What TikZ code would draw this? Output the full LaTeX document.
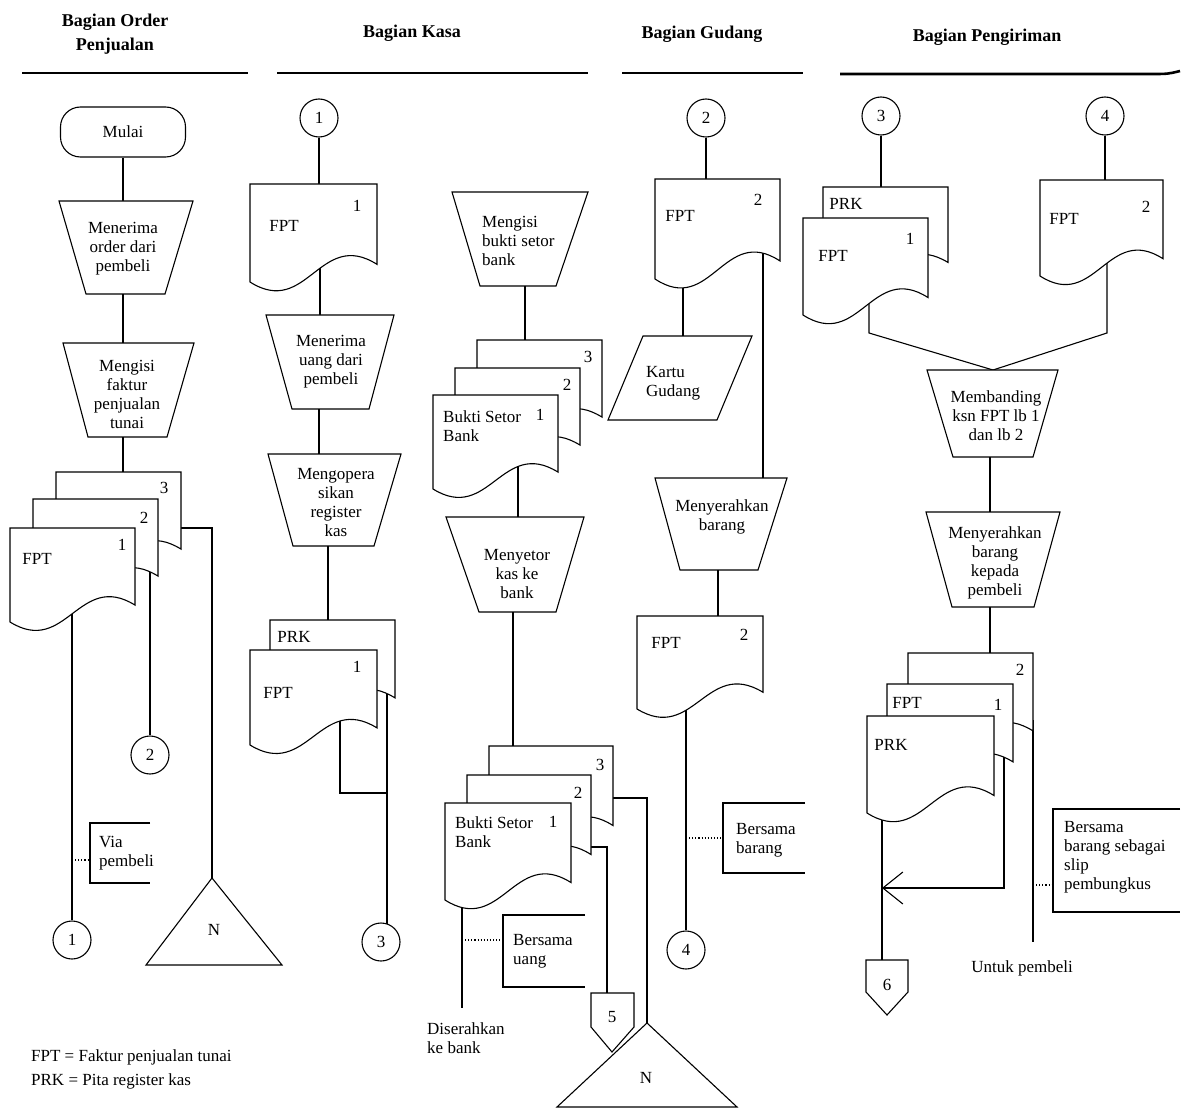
\documentclass[tikz,border=0pt]{standalone}
\usepackage{fontspec}
\setmainfont{Liberation Serif}
\usetikzlibrary{arrows.meta}
\tikzset{
  ln/.style={line width=1.1pt},
  shp/.style={draw, line width=1.1pt, fill=white},
  txt/.style={font=\fontsize{17}{19}\selectfont, inner sep=0pt, align=center},
  lft/.style={font=\fontsize{17}{19}\selectfont, inner sep=0pt, align=left, anchor=west},
  hdr/.style={font=\bfseries\fontsize{18}{21}\selectfont, inner sep=0pt},
  conn/.style={circle, draw, line width=1.1pt, fill=white, minimum size=38pt, inner sep=0pt, font=\fontsize{17}{19}\selectfont},
  hline/.style={line width=2.6pt},
  dots/.style={dotted, line width=1.1pt},
}
% document symbol: x, y (top-left), width, left height
\newcommand{\docu}[4]{%
  \draw[shp] (#1,#2) -- ({#1+#3},#2) -- ({#1+#3},{#2+0.82*#4})
    .. controls ({#1+0.55*#3},{#2+0.45*#4}) and ({#1+0.45*#3},{#2+1.37*#4}) .. (#1,{#2+#4}) -- cycle;}
% manual operation (trapezium): ytop, ybot, x top-left, x top-right, x bottom-left, x bottom-right
\newcommand{\trapz}[6]{%
  \draw[shp] (#3,#1) -- (#4,#1) -- (#6,#2) -- (#5,#2) -- cycle;}
\begin{document}
\begin{tikzpicture}[x=1pt,y=-1pt]
\useasboundingbox (0,0) rectangle (1187,1110);

% ---------------- headers ----------------
\node[hdr] (h1a) at (115,22) {Bagian Order};
\node[hdr] (h1b) at (115,46) {Penjualan};
\node[hdr] (h2) at (412,33) {Bagian Kasa};
\node[hdr] (h3) at (702,34) {Bagian Gudang};
\node[hdr] (h4) at (987,37) {Bagian Pengiriman};
\draw[hline] (22,73) -- (248,73);
\draw[hline] (277,73) -- (588,73);
\draw[hline] (622,73) -- (803,73);
\draw[hline] (840,74) -- (1150,74) .. controls (1168,74) .. (1180,71);

% ================= Column 1 : Bagian Order Penjualan =================
\node[shp, rounded corners=20pt, minimum width=125pt, minimum height=50pt, txt] (mulai) at (123,132) {Mulai};
\coordinate (t1t) at (123,201);
\draw[ln] (mulai.south) -- (t1t);
\trapz{201}{294}{59}{193}{86}{165}
\node[txt] (t1) at (123,249) {Menerima\\order dari\\pembeli};
\coordinate (t1b) at (123,294);
\coordinate (t2t) at (123,343);
\draw[ln] (t1b) -- (t2t);
\trapz{343}{437}{63}{194}{88}{167}
\node[txt] (t2) at (127,394) {Mengisi\\faktur\\penjualan\\tunai};
\coordinate (t2b) at (123,437);
\coordinate (s1top) at (123,472);
\draw[ln] (t2b) -- (s1top);

\node[conn] (c2a) at (150,755) {2};
\node[conn] (c1a) at (72,940) {1};
\coordinate (s1c3) at (181,528);
\coordinate (n1apex) at (212,878);
\coordinate (s1c2) at (150,555);
\coordinate (s1c1) at (72,600);
\draw[ln] (s1c3) -| (n1apex);
\draw[ln] (s1c2) -- (c2a.north);
\draw[ln] (s1c1) -- (c1a.north);
\coordinate (via1) at (72,860);
\coordinate (via2) at (90,860);
\draw[dots] (via1) -- (via2);
\draw[ln] (150,823) -- (90,823) -- (90,883) -- (150,883);
\node[lft] (via) at (99,853) {Via\\pembeli};
\draw[shp] (n1apex) -- (282,965) -- (146,965) -- cycle;
\node[txt] (n1) at (214,930) {N};

\docu{56}{472}{125}{94}
\docu{33}{499}{125}{94}
\docu{10}{528}{125}{94}
\node[txt] (s1n3) at (164,488) {3};
\node[txt] (s1n2) at (144,518) {2};
\node[txt] (s1n1) at (122,545) {1};
\node[txt] (s1l) at (37,559) {FPT};

\node[lft] (leg1) at (31,1057) {FPT = Faktur penjualan tunai};
\node[lft] (leg2) at (31,1081) {PRK = Pita register kas};

% ================= Column 2 : Bagian Kasa (left) =================
\node[conn] (c1b) at (319,118) {1};
\coordinate (d2t) at (319,184);
\draw[ln] (c1b) -- (d2t);
\coordinate (d2c) at (320,250);
\coordinate (tAt) at (320,315);
\draw[ln] (d2c) -- (tAt);
\docu{250}{184}{127}{98}
\node[txt] (d2l) at (284,226) {FPT};
\node[txt] (d2n) at (357,206) {1};
\trapz{315}{409}{266}{394}{292}{369}
\node[txt] (tA) at (331,362) {Menerima\\uang dari\\pembeli};
\coordinate (tAb) at (319,409);
\coordinate (tBt) at (319,454);
\draw[ln] (tAb) -- (tBt);
\trapz{454}{546}{268}{401}{293}{374}
\node[txt] (tB) at (336,503) {Mengopera\\sikan\\register\\kas};
\coordinate (tBb) at (328,546);
\coordinate (s2top) at (328,620);
\draw[ln] (tBb) -- (s2top);

\node[conn] (c3b) at (381,942) {3};
\coordinate (s2f) at (340,700);
\coordinate (s2j) at (387,793);
\coordinate (s2p) at (387,680);
\coordinate (s2e) at (387,924);
\draw[ln] (s2f) |- (s2j);
\draw[ln] (s2p) -- (s2e);
\docu{270}{620}{125}{95}
\docu{250}{650}{127}{95}
\node[txt] (s2l1) at (294,637) {PRK};
\node[txt] (s2l2) at (278,693) {FPT};
\node[txt] (s2n) at (357,667) {1};

% ================= Column 2 : Bagian Kasa (right) =================
\trapz{192}{286}{452}{588}{480}{556}
\node[lft] (tC) at (482,241) {Mengisi\\bukti setor\\bank};
\coordinate (tCb) at (525,286);
\coordinate (s3top) at (525,340);
\draw[ln] (tCb) -- (s3top);
\coordinate (s3c) at (518,450);
\coordinate (tDt) at (518,517);
\draw[ln] (s3c) -- (tDt);
\docu{477}{340}{125}{94}
\docu{455}{368}{125}{94}
\docu{433}{395}{125}{94}
\node[txt] (s3n3) at (588,357) {3};
\node[txt] (s3n2) at (567,385) {2};
\node[txt] (s3n1) at (540,415) {1};
\node[lft] (s3l) at (443,426) {Bukti Setor\\Bank};
\trapz{517}{612}{446}{584}{479}{556}
\node[txt] (tD) at (517,574) {Menyetor\\kas ke\\bank};
\coordinate (tDb) at (513,612);
\coordinate (s4top) at (513,746);
\draw[ln] (tDb) -- (s4top);

\coordinate (s4c3) at (613,798);
\coordinate (n2apex) at (647,1023);
\coordinate (s4c2) at (591,847);
\coordinate (p5top) at (607,993);
\coordinate (s4c1) at (462,870);
\coordinate (s4end) at (462,1008);
\draw[ln] (s4c3) -| (n2apex);
\draw[ln] (s4c2) -| (p5top);
\draw[ln] (s4c1) -- (s4end);
\coordinate (bu1) at (462,940);
\coordinate (bu2) at (503,940);
\draw[dots] (bu1) -- (bu2);
\draw[ln] (585,915) -- (503,915) -- (503,987) -- (585,987);
\node[lft] (bu) at (513,951) {Bersama\\uang};
\node[lft] (diser) at (427,1038) {Diserahkan\\ke bank};
\draw[shp] (591,993) -- (634,993) -- (634,1027) -- (612,1052) -- (591,1027) -- cycle;
\node[txt] (p5) at (612,1017) {5};
\draw[shp] (n2apex) -- (737,1107) -- (557,1107) -- cycle;
\node[txt] (n2) at (646,1078) {N};

\docu{489}{746}{124}{97}
\docu{467}{775}{124}{97}
\docu{445}{803}{126}{97}
\node[txt] (s4n3) at (600,765) {3};
\node[txt] (s4n2) at (578,793) {2};
\node[txt] (s4n1) at (553,822) {1};
\node[lft] (s4l) at (455,832) {Bukti Setor\\Bank};

% ================= Column 3 : Bagian Gudang =================
\node[conn] (c2b) at (706,118) {2};
\coordinate (d3t) at (706,179);
\draw[ln] (c2b) -- (d3t);
\coordinate (d3a) at (683,255);
\coordinate (kgt) at (683,336);
\draw[ln] (d3a) -- (kgt);
\coordinate (d3b) at (763,240);
\coordinate (tEt) at (763,478);
\draw[ln] (d3b) -- (tEt);
\docu{655}{179}{125}{100}
\node[txt] (d3l) at (680,216) {FPT};
\node[txt] (d3n) at (758,200) {2};
\draw[shp] (643,336) -- (752,336) -- (717,420) -- (608,420) -- cycle;
\node[lft] (kg) at (646,383) {Kartu\\Gudang};
\trapz{478}{570}{655}{787}{680}{758}
\node[txt] (tE) at (722,517) {Menyerahkan\\barang};
\coordinate (tEb) at (718,570);
\coordinate (d4t) at (718,616);
\draw[ln] (tEb) -- (d4t);
\node[conn] (c4b) at (686,950) {4};
\coordinate (d4c) at (686,690);
\draw[ln] (d4c) -- (c4b.north);
\coordinate (ba1) at (686,838);
\coordinate (ba2) at (723,838);
\draw[dots] (ba1) -- (ba2);
\draw[ln] (805,803) -- (723,803) -- (723,873) -- (805,873);
\node[lft] (ba) at (736,840) {Bersama\\barang};
\docu{637}{616}{126}{93}
\node[txt] (d4l) at (666,643) {FPT};
\node[txt] (d4n) at (744,635) {2};

% ================= Column 4 : Bagian Pengiriman =================
\node[conn] (c3c) at (881,116) {3};
\node[conn] (c4c) at (1105,116) {4};
\coordinate (s5top) at (881,187);
\coordinate (d6t) at (1105,180);
\draw[ln] (c3c) -- (s5top);
\draw[ln] (c4c) -- (d6t);
\coordinate (s5c) at (869,300);
\coordinate (s5k) at (869,333);
\coordinate (d6c) at (1107,260);
\coordinate (d6k) at (1107,333);
\coordinate (tFt) at (993,370);
\draw[ln] (s5c) -- (s5k) -- (tFt);
\draw[ln] (d6c) -- (d6k) -- (tFt);
\docu{823}{187}{125}{92}
\docu{803}{218}{125}{97}
\node[txt] (s5l1) at (846,204) {PRK};
\node[txt] (s5l2) at (833,256) {FPT};
\node[txt] (s5n) at (910,239) {1};
\docu{1040}{180}{123}{96}
\node[txt] (d6l) at (1064,219) {FPT};
\node[txt] (d6n) at (1146,207) {2};

\trapz{370}{457}{927}{1058}{953}{1033}
\node[txt] (tF) at (996,416) {Membanding\\ksn FPT lb 1\\dan lb 2};
\coordinate (tFb) at (990,457);
\coordinate (tGt) at (990,512);
\draw[ln] (tFb) -- (tGt);
\trapz{512}{607}{926}{1060}{952}{1034}
\node[txt] (tG) at (995,563) {Menyerahkan\\barang\\kepada\\pembeli};
\coordinate (tGb) at (990,607);
\coordinate (s6top) at (990,653);
\draw[ln] (tGb) -- (s6top);

\coordinate (s6a) at (882,790);
\coordinate (p6top) at (882,960);
\draw[ln] (s6a) -- (p6top);
\coordinate (s6b) at (1004,745);
\coordinate (arr) at (882,888);
\draw[ln, -{Straight Barb[length=20pt, width=32pt]}] (s6b) |- (arr);
\coordinate (s6c) at (1033,720);
\coordinate (s6e) at (1033,942);
\draw[ln] (s6c) -- (s6e);
\coordinate (sl1) at (1033,885);
\coordinate (sl2) at (1053,885);
\draw[dots] (sl1) -- (sl2);
\draw[ln] (1180,809) -- (1053,809) -- (1053,912) -- (1180,912);
\node[lft] (sl) at (1064,857) {Bersama\\barang sebagai\\slip\\pembungkus};
\node[txt] (untuk) at (1022,968) {Untuk pembeli};
\draw[shp] (866,960) -- (908,960) -- (908,992) -- (887,1015) -- (866,992) -- cycle;
\node[txt] (p6) at (887,985) {6};

\docu{908}{653}{125}{95}
\docu{887}{684}{126}{95}
\docu{867}{716}{127}{97}
\node[txt] (s6n2) at (1020,670) {2};
\node[txt] (s6l1) at (907,703) {FPT};
\node[txt] (s6n1) at (998,705) {1};
\node[txt] (s6l2) at (891,745) {PRK};

\end{tikzpicture}
\end{document}
